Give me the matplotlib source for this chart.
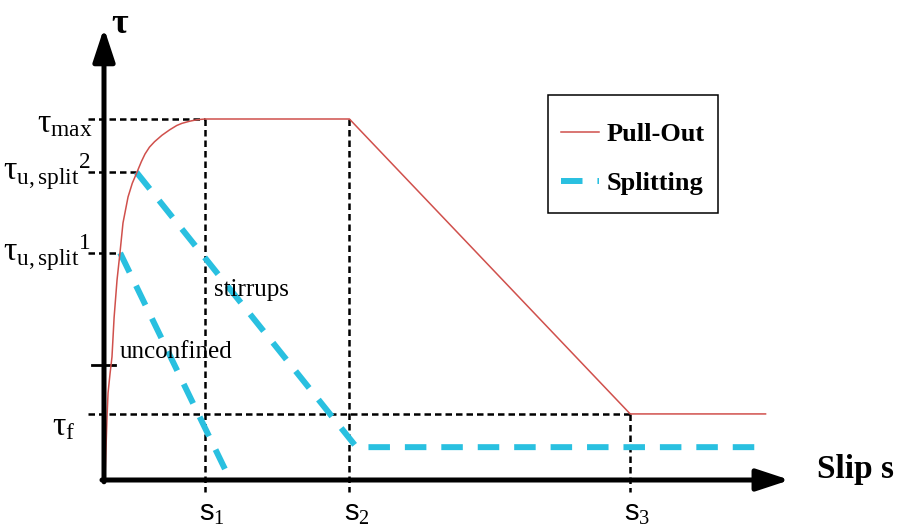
import matplotlib
matplotlib.use("Agg")
import matplotlib.pyplot as plt
from matplotlib.patches import Rectangle

plt.rcParams["font.family"] = ["Liberation Serif", "DejaVu Serif"]
plt.rcParams["mathtext.fontset"] = "custom"
plt.rcParams["mathtext.rm"] = "Liberation Serif"
plt.rcParams["mathtext.it"] = "Liberation Serif:italic"
plt.rcParams["mathtext.bf"] = "Liberation Serif:bold"
plt.rcParams["mathtext.sf"] = "Liberation Sans"

# characteristic slips (s1 = 1) and bond stresses (tau_max = 10)
s1, s2, s3, s_end = 1.0, 2.43, 5.21, 6.55
tau_max, tau_split2, tau_split1, tau_mid, tau_f = 10.0, 8.53, 6.29, 3.19, 1.83
tau_split_res = 0.91

pull_s = [0.0, 0.01, 0.02, 0.03, 0.04, 0.06, 0.079, 0.10, 0.129, 0.158, 0.188,
          0.238, 0.28, 0.327, 0.37, 0.406, 0.45, 0.50, 0.574, 0.65, 0.72,
          0.772, 0.85, 0.92, s1, s2, s3, s_end]
pull_tau = [0.0, 0.08, 0.9, 1.75, 2.41, 2.95, 3.41, 4.5, 5.54, 6.29, 7.12,
            7.84, 8.22, 8.53, 8.82, 9.03, 9.22, 9.37, 9.55, 9.70, 9.82,
            9.88, 9.94, 9.98, tau_max, tau_max, tau_f, tau_f]

# splitting branches
split1_s = [0.16, 1.25]
split1_tau = [tau_split1, 0.0]
split2_s = [0.32, 2.50, 6.45]
split2_tau = [tau_split2, tau_split_res, tau_split_res]

red = "#d0504c"
cyan = "#29c0e0"

fig = plt.figure(figsize=(9, 5.28), dpi=100)
ax = fig.add_axes([0, 0, 1, 1])
ax.set_xlim(-104 / 101, 796 / 101)
ax.set_ylim(-48 / 36.1, 480 / 36.1)
ax.axis("off")

guide = dict(color="black", lw=1.8, dashes=(2.6, 1.6), zorder=2)
x0 = -0.16
# horizontal guides
ax.plot([x0, s1], [tau_max, tau_max], **guide)
ax.plot([x0, 0.32], [tau_split2, tau_split2], **guide)
ax.plot([x0, 0.16], [tau_split1, tau_split1], **guide)
ax.plot([x0, s3], [tau_f, tau_f], **guide)
# vertical guides
ax.plot([s1, s1], [tau_max, -0.33], **guide)
ax.plot([s2, s2], [tau_max, -0.33], **guide)
ax.plot([s3, s3], [tau_f, -0.33], **guide)
# short solid tick on tau axis
ax.plot([-0.12, 0.11], [tau_mid, tau_mid], color="black", lw=2.0, zorder=3)

ax.plot(pull_s, pull_tau, color=red, lw=1.1, zorder=4, label="Pull-Out")
ax.plot(split1_s, split1_tau, color=cyan, lw=4.3, dashes=(3.6, 2.5), zorder=3,
        label="Splitting")
ax.plot(split2_s, split2_tau, color=cyan, lw=4.3, dashes=(3.6, 2.5), zorder=3)

# axes with arrows
arrow = dict(arrowstyle="-|>,head_length=1.0,head_width=0.33", color="black",
             lw=3.6, mutation_scale=20, shrinkA=0, shrinkB=0)
ax.annotate("", xy=(6.79, 0), xytext=(-0.02, 0), arrowprops=arrow, zorder=5)
ax.annotate("", xy=(0, 12.52), xytext=(0, -0.05), arrowprops=arrow, zorder=5)

ax.text(0.16, 12.62, r"$\mathbf{\tau}$", fontsize=26, ha="center", va="center")
ax.text(7.06, 0.3, "Slip s", fontsize=24, fontweight="bold", ha="left", va="center")

# tau labels
lab = dict(fontsize=24, ha="right", va="center")
ax.text(-0.11, tau_max - 0.15, r"$\mathrm{\tau}_{\mathrm{max}}$", **lab)
ax.text(-0.13, tau_split2, r"$\mathrm{\tau}_{\mathrm{u,split}}{}^{2}$", **lab)
ax.text(-0.13, tau_split1, r"$\mathrm{\tau}_{\mathrm{u,split}}{}^{1}$", **lab)
ax.text(-0.28, tau_f - 0.35, r"$\mathrm{\tau}_{\mathrm{f}}$", **lab)

# slip labels
for s, t in [(s1, r"$\mathsf{s}_1$"), (s2, r"$\mathsf{s}_2$"), (s3, r"$\mathsf{s}_3$")]:
    ax.text(s + 0.07, -0.95, t, fontsize=21, ha="center", va="center")

ax.text(1.09, 5.26, "stirrups", fontsize=18, ha="left", va="center")
ax.text(0.16, 3.55, "unconfined", fontsize=18, ha="left", va="center")

# legend entries without frame, box drawn separately
ax.legend(loc="upper left", bbox_to_anchor=(546 / 900, 1 - 108 / 528), borderaxespad=0,
          prop={"weight": "bold", "size": 19}, frameon=False, handlelength=1.45,
          handletextpad=0.3, labelspacing=0.98, borderpad=0.55)
ax.add_patch(Rectangle((548 / 900, 1 - 213 / 528), 170 / 900, 118 / 528,
                       transform=ax.transAxes, fill=False, edgecolor="black",
                       lw=1.1, zorder=6))

fig.savefig("out.png", dpi=100)
